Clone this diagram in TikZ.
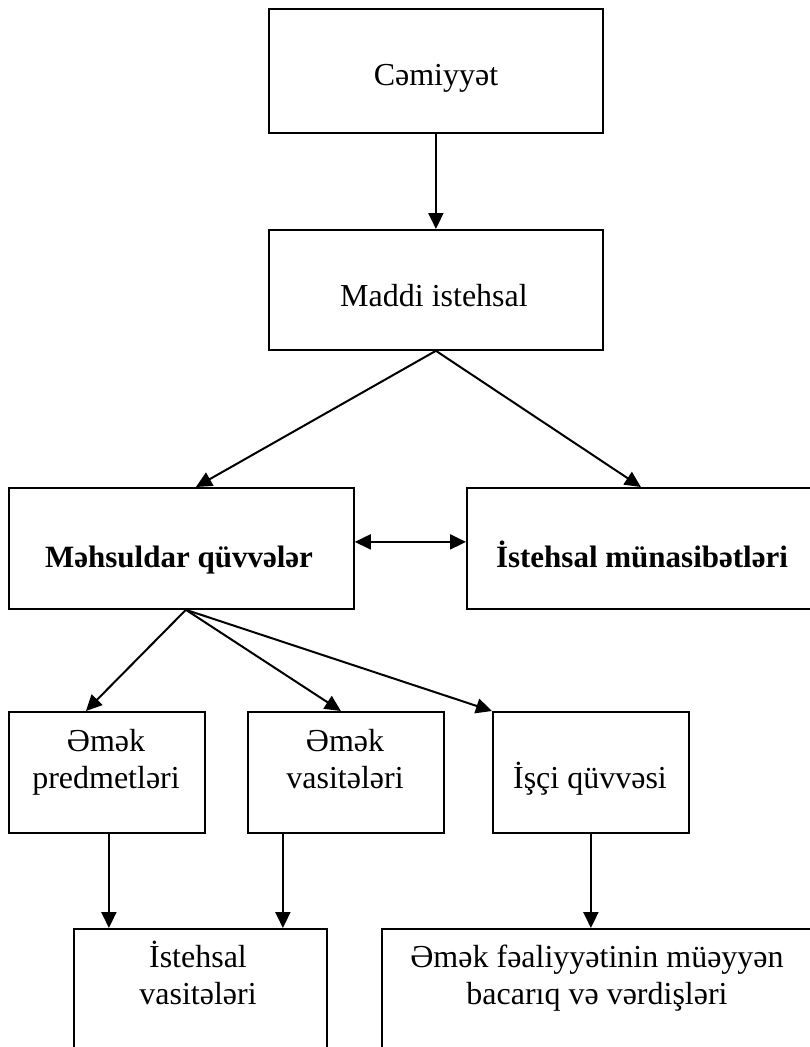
\documentclass[tikz,border=0pt]{standalone}
\usepackage{fontspec}
\setmainfont{Liberation Serif}
\usetikzlibrary{arrows.meta,calc}
\begin{document}
\begin{tikzpicture}[x=1pt,y=-1pt,
 box/.style={draw,line width=1.8pt,inner sep=0pt,anchor=north west},
 lbl/.style={font=\fontsize{32}{37}\selectfont,align=center,anchor=base,inner sep=0pt},
 blbl/.style={lbl,font=\fontsize{31}{37}\selectfont\bfseries},
 arr/.style={line width=2pt,-{Triangle[length=16pt,width=15pt]}},
 darr/.style={line width=2pt,{Triangle[length=16pt,width=15pt]}-{Triangle[length=16pt,width=15pt]}}]
\useasboundingbox (0,0) rectangle (810,1047);
\clip (0,0) rectangle (810,1047);
% boxes
\node[box,minimum width=334pt,minimum height=124pt] (b1) at (268,8) {};
\node[box,minimum width=334pt,minimum height=120pt] (b2) at (268,229) {};
\node[box,minimum width=345pt,minimum height=121pt] (mq) at (8,487) {};
\node[box,minimum width=352pt,minimum height=121pt] (im) at (466,487) {};
\node[box,minimum width=196pt,minimum height=121pt] (ep) at (8,711) {};
\node[box,minimum width=196pt,minimum height=121pt] (ev) at (247,711) {};
\node[box,minimum width=196pt,minimum height=121pt] (iq) at (492,711) {};
\node[box,minimum width=253pt,minimum height=140pt] (iv) at (73,928) {};
\node[box,minimum width=433pt,minimum height=140pt] (ef) at (381,928) {};
% texts
\node[lbl] (t1) at (436,85) {Cəmiyyət};
\node[lbl] (t2) at (434,306) {Maddi istehsal};
\node[blbl] (t3) at (179,567) {Məhsuldar qüvvələr};
\node[blbl] (t4) at (642,567) {İstehsal münasibətləri};
\node[lbl] (t5) at (106,788) {Əmək\\predmetləri};
\node[lbl] (t6) at (345,788) {Əmək\\vasitələri};
\node[lbl] (t7) at (590,788) {İşçi qüvvəsi};
\node[lbl] (t8) at (198,1004) {İstehsal\\vasitələri};
\node[lbl] (t9) at (597,1004) {Əmək fəaliyyətinin müəyyən\\bacarıq və vərdişləri};
% connectors
\draw[arr] (b1.south) -- (b2.north);
\draw[arr] (b2.south) -- ([xshift=14.5pt]mq.north);
\draw[arr] (b2.south) -- ([xshift=-2pt]im.north);
\draw[darr] ([yshift=6.5pt]mq.east) -- ([yshift=6.5pt]im.west);
\coordinate (apex) at ([xshift=4.5pt]mq.south);
\draw[arr] (apex) -- ([xshift=-21pt]ep.north);
\draw[arr] (apex) -- ([xshift=-5pt]ev.north);
\draw[arr] (apex) -- (iq.north west);
\coordinate (e1) at ([xshift=2pt]ep.south);
\coordinate (e2) at ([xshift=-63pt]ev.south);
\draw[arr] (e1) -- (e1 |- iv.north);
\draw[arr] (e2) -- (e2 |- iv.north);
\draw[arr] (iq.south) -- (iq.south |- ef.north);
\end{tikzpicture}
\end{document}
